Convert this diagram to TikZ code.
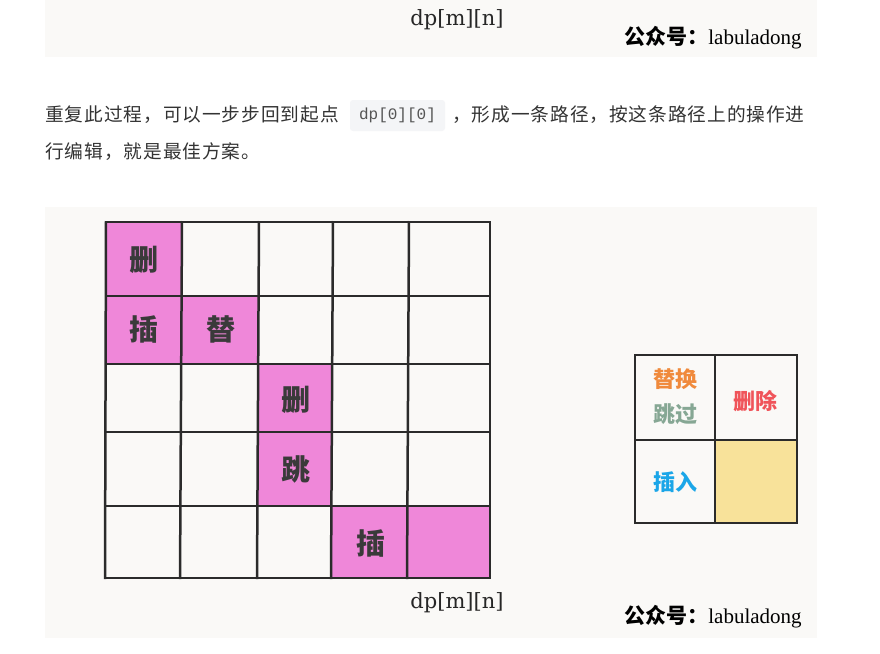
\documentclass[tikz,border=0pt]{standalone}
\usepackage{fontspec}
\setmainfont{Liberation Serif}
\newfontfamily\cjk{Noto Sans CJK SC}
\newfontfamily\cjkp[LetterSpace=5]{Noto Sans CJK SC}
\newfontfamily\monof{Liberation Mono}
\newfontfamily\labserif{DejaVu Serif}
\definecolor{paper}{HTML}{FAF9F7}
\definecolor{pinkc}{HTML}{EF87D9}
\definecolor{gridc}{HTML}{2B2B2B}
\definecolor{txtc}{HTML}{333333}
\definecolor{celltc}{HTML}{3A3A3A}
\definecolor{orangec}{HTML}{F08A3C}
\definecolor{sagec}{HTML}{86A794}
\definecolor{redc}{HTML}{F0545A}
\definecolor{bluec}{HTML}{1BA6E8}
\definecolor{yellowc}{HTML}{F8E29A}
\definecolor{codebg}{HTML}{F4F5F7}
\definecolor{codetxt}{HTML}{555555}
\tikzset{
  gridline/.style={draw=gridc, line width=2.5pt},
  legline/.style={draw=gridc, line width=1.4pt},
  celltxt/.style={font=\cjk\bfseries\fontsize{29}{32}\selectfont, text=celltc, inner sep=0pt},
  legtxt/.style={font=\cjk\bfseries\fontsize{22}{26}\selectfont, inner sep=0pt},
  dplab/.style={font=\labserif\fontsize{21}{24}\selectfont, text=black!85, inner sep=0pt},
  brand/.style={font=\fontsize{21}{24}\selectfont, text=black, inner sep=0pt},
  para/.style={font=\cjkp\fontsize{18.7}{22}\selectfont, text=txtc, inner sep=0pt, anchor=base west},
}
\begin{document}
\begin{tikzpicture}[x=1pt,y=-1pt]
\useasboundingbox (0,0) rectangle (880,653);
\fill[white] (0,0) rectangle (880,653);
% top strip
\fill[paper] (45,0) rectangle (817,57);
\node[dplab] (dptop) at (457,20) {dp[m][n]};
\node[brand] (brtop) at (713,38) {{\cjk\bfseries 公众号：}labuladong};
% paragraph
\node[para] (p1) at (45,121) {重复此过程，可以一步步回到起点};
\node[fill=codebg, rounded corners=3pt, minimum width=95pt, minimum height=31pt, inner sep=0pt,
      font=\monof\fontsize{16}{18}\selectfont, text=codetxt] (code) at (397.5,115.5) {dp[0][0]};
\node[para] (p2) at (452,121) {，形成一条路径，按这条路径上的操作进};
\node[para] (p3) at (45,158) {行编辑，就是最佳方案。};
% main figure background
\fill[paper] (45,207) rectangle (817,638);
% pink cells
\fill[pinkc] (106,222) rectangle (181,296);
\fill[pinkc] (106,296) rectangle (181,364);
\fill[pinkc] (181,296) rectangle (258,364);
\fill[pinkc] (258,364) rectangle (332,432);
\fill[pinkc] (258,432) rectangle (332,506);
\fill[pinkc] (332,506) rectangle (408,578);
\fill[pinkc] (408,506) rectangle (490,578);
% grid
\foreach \a/\b in {106/105,182/180,259/257,333/331,409/407,490/490}
  \draw[gridline] (\a,221) -- (\b,579);
\foreach \y in {222,296,364,432,506,578}
  \draw[gridline] (105,\y) -- (491,\y);
% cell texts
\node[celltxt] (c00) at (144,260) {删};
\node[celltxt] (c10) at (144,329) {插};
\node[celltxt] (c11) at (221,329) {替};
\node[celltxt] (c22) at (296,400) {删};
\node[celltxt] (c32) at (296,469) {跳};
\node[celltxt] (c43) at (371,543) {插};
% legend
\fill[yellowc] (715,440) rectangle (797,523);
\draw[legline] (635,355) rectangle (797,523);
\draw[legline] (715,355) -- (715,523);
\draw[legline] (635,440) -- (797,440);
\node[legtxt, text=orangec] (l1) at (675,379) {替换};
\node[legtxt, text=sagec] (l2) at (675,414) {跳过};
\node[legtxt, text=redc] (l3) at (755,401) {删除};
\node[legtxt, text=bluec] (l4) at (675,482) {插入};
% bottom labels
\node[dplab] (dpbot) at (457,603) {dp[m][n]};
\node[brand] (brbot) at (713,617) {{\cjk\bfseries 公众号：}labuladong};
\end{tikzpicture}
\end{document}
